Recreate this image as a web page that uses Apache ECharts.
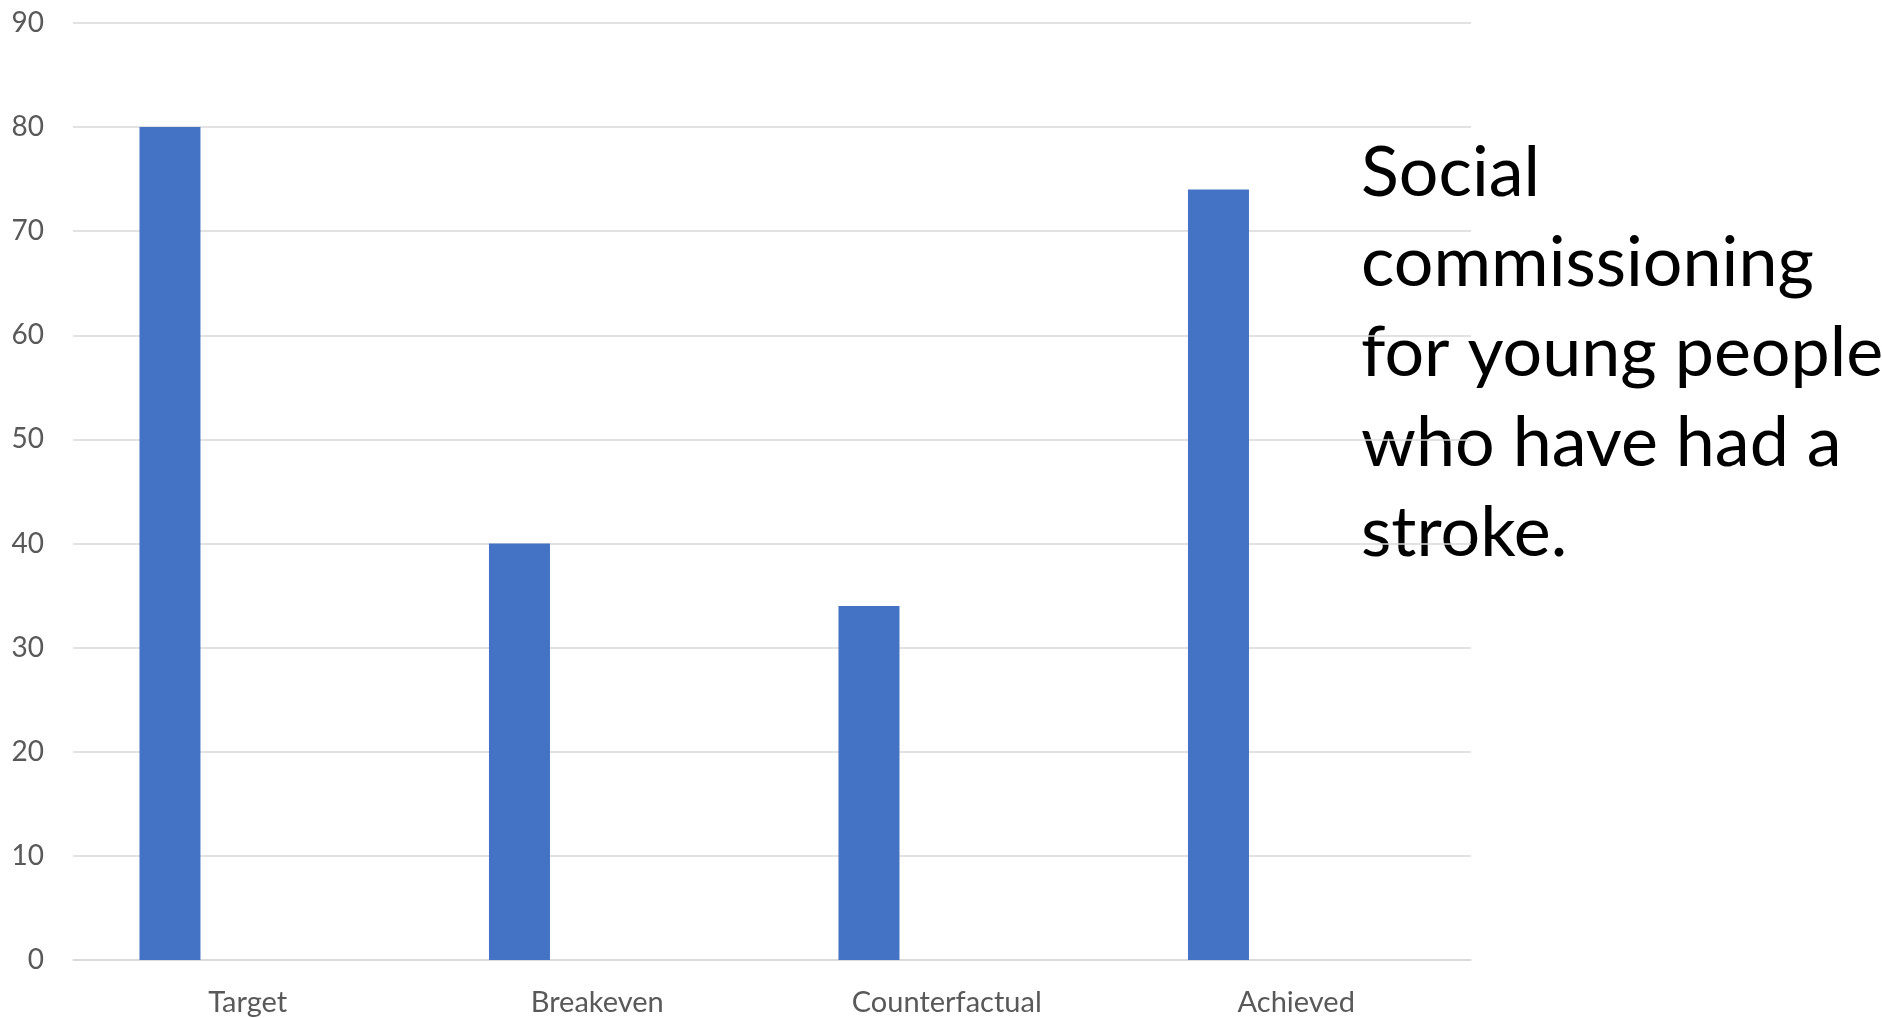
<!DOCTYPE html>
<html>
<head>
<meta charset="utf-8">
<script src="https://cdn.jsdelivr.net/npm/echarts@6/dist/echarts.min.js"></script>
<style>
html,body{margin:0;padding:0;background:#fff;}
#chart{width:1882px;height:1018px;}
</style>
</head>
<body>
<div id="chart"></div>
<script>
const categories = ['Target', 'Breakeven', 'Counterfactual', 'Achieved'];
const values = [80, 40, 34, 74];
const emptySeries = [null, null, null, null];
const yTicks = { min: 0, max: 90, interval: 10 };
const titleLines = ['Social', 'commissioning', 'for young people', 'who have had a', 'stroke.'];

const chart = echarts.init(document.getElementById('chart'));
chart.setOption({
  animation: false,
  backgroundColor: '#ffffff',
  textStyle: { fontFamily: 'Lato' },
  grid: { left: 73, right: 411, top: 23, bottom: 58 },
  xAxis: {
    type: 'category',
    data: categories,
    axisLine: { lineStyle: { color: '#D9D9D9', width: 1.5 } },
    axisTick: { show: false },
    axisLabel: { color: '#595959', fontSize: 29, fontFamily: 'Lato', margin: 28 }
  },
  yAxis: {
    type: 'value',
    min: yTicks.min, max: yTicks.max, interval: yTicks.interval,
    axisLine: { show: false },
    axisTick: { show: false },
    splitLine: { lineStyle: { color: '#D9D9D9', width: 1.5 } },
    axisLabel: { color: '#595959', fontSize: 28, fontFamily: 'Lato', margin: 29 }
  },
  series: [
    { type: 'bar', data: values, barWidth: 61, barGap: '155%', itemStyle: { color: '#4472C4' } },
    { type: 'bar', data: emptySeries, barWidth: 61, itemStyle: { color: '#ED7D31' } }
  ],
  graphic: [{
    type: 'text',
    left: 1361,
    top: 128,
    style: {
      text: titleLines.join('\n'),
      font: '70px Lato',
      lineHeight: 90,
      fill: '#000000'
    }
  }]
});
</script>
</body>
</html>
